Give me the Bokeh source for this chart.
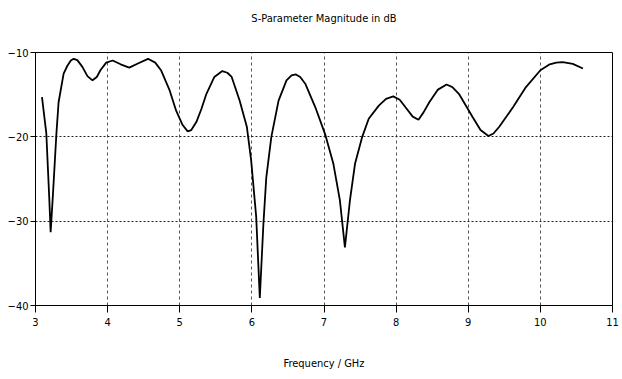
from bokeh.plotting import figure
from bokeh.embed import file_html
from bokeh.resources import INLINE
from bokeh.models import Range1d, FixedTicker, LinearAxis

FONT = "DejaVu Sans Condensed"

freq_ghz = [3.09, 3.15, 3.19, 3.21, 3.24, 3.29, 3.32, 3.39, 3.44, 3.49, 3.53, 3.58, 3.65,
            3.72, 3.79, 3.85, 3.90, 3.98, 4.07, 4.18, 4.30, 4.42, 4.56, 4.66, 4.74, 4.86,
            4.95, 5.04, 5.11, 5.16, 5.23, 5.30, 5.37, 5.48, 5.59, 5.66, 5.72, 5.83, 5.93,
            5.99, 6.06, 6.11, 6.16, 6.20, 6.27, 6.37, 6.48, 6.55, 6.61, 6.67, 6.74, 6.88,
            7.02, 7.13, 7.22, 7.29, 7.36, 7.43, 7.53, 7.62, 7.76, 7.86, 7.96, 8.05, 8.13,
            8.23, 8.31, 8.38, 8.46, 8.58, 8.70, 8.78, 8.87, 9.06, 9.17, 9.28, 9.35, 9.43,
            9.62, 9.80, 10.00, 10.13, 10.22, 10.31, 10.45, 10.59]
s_param_db = [-15.3, -19.6, -27.1, -31.3, -27.1, -19.6, -15.9, -12.5, -11.6, -10.95, -10.75, -10.9, -11.7,
              -12.8, -13.3, -12.9, -12.1, -11.2, -10.95, -11.4, -11.8, -11.3, -10.75, -11.2, -12.1, -14.5,
              -16.9, -18.6, -19.35, -19.2, -18.25, -16.7, -14.9, -12.9, -12.2, -12.4, -12.9, -15.7, -18.8,
              -22.8, -29.5, -39.1, -30.3, -24.8, -20.0, -15.7, -13.3, -12.7, -12.6, -12.9, -13.7, -16.5,
              -19.8, -23.2, -27.5, -33.1, -27.5, -23.2, -20.0, -17.85, -16.3, -15.5, -15.2, -15.6, -16.5,
              -17.6, -17.97, -17.1, -15.9, -14.4, -13.8, -14.1, -14.9, -17.65, -19.2, -19.9, -19.6, -18.8,
              -16.5, -14.1, -12.1, -11.4, -11.2, -11.15, -11.35, -11.9]

x_ticks = [3, 4, 5, 6, 7, 8, 9, 10, 11]
y_ticks = [-40, -30, -20, -10]
title_text = "S-Parameter Magnitude in dB"
x_label = "Frequency / GHz"

p = figure(width=620, height=375, output_backend="svg", toolbar_location=None,
           x_range=Range1d(3, 11), y_range=Range1d(-40, -10))
p.min_border_left = 35
p.min_border_right = 8
p.min_border_top = 52
p.min_border_bottom = 70

p.line(freq_ghz, s_param_db, line_color="black", line_width=1.8)

xb = p.below[0]
yl = p.left[0]
xb.ticker = FixedTicker(ticks=x_ticks)
yl.ticker = FixedTicker(ticks=y_ticks)
xb.axis_label = x_label

# title drawn as the label of a bare axis above the frame
top = LinearAxis(ticker=FixedTicker(ticks=[]), axis_label=title_text)
top.axis_line_color = None
top.major_tick_out = 0
top.major_tick_in = 0
top.minor_tick_line_color = None
top.major_label_standoff = 0
top.axis_label_standoff = 28
p.add_layout(top, "above")

for ax in (xb, yl, top):
    ax.axis_label_text_font = FONT
    ax.axis_label_text_font_size = "11px"
    ax.axis_label_text_font_style = "normal"
    ax.axis_label_text_color = "black"
for ax in (xb, yl):
    ax.axis_line_color = "black"
    ax.major_tick_line_color = "black"
    ax.major_tick_in = 0
    ax.minor_tick_line_color = None
    ax.major_label_text_font = FONT
    ax.major_label_text_font_size = "11px"
    ax.major_label_text_color = "black"
xb.major_tick_out = 7
xb.major_label_standoff = 5
xb.axis_label_standoff = 28
yl.major_tick_out = 5
yl.major_label_standoff = 2

p.xgrid.grid_line_color = "#555555"
p.xgrid.grid_line_dash = "3 3"
p.ygrid.grid_line_color = "#222222"
p.ygrid.grid_line_dash = "2 2"
p.outline_line_color = "black"
p.outline_line_width = 1

open("out.html", "w").write(file_html(p, INLINE))
